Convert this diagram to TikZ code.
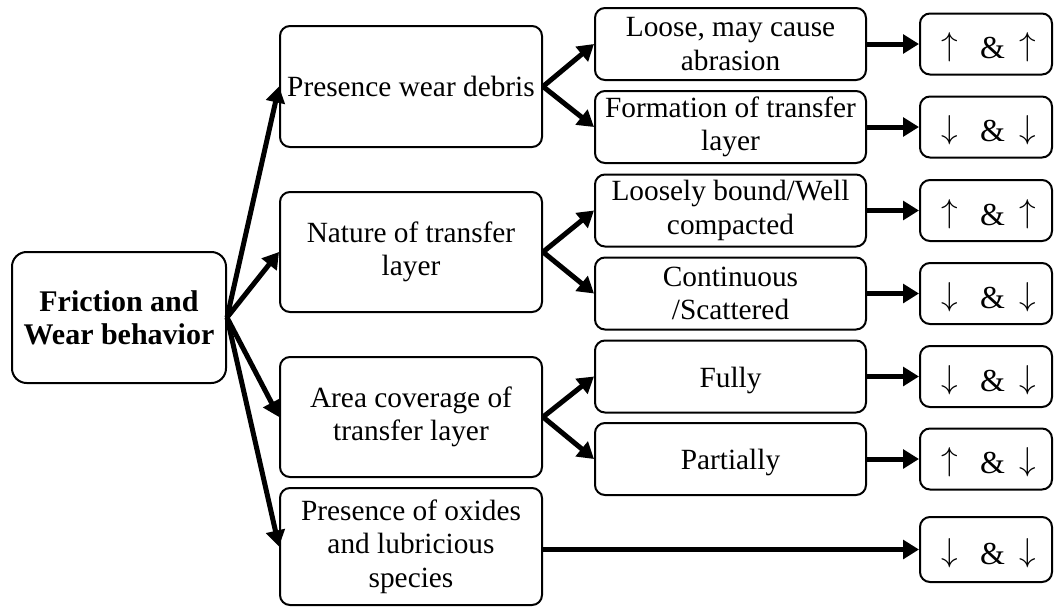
\documentclass[tikz,border=0pt]{standalone}
\usepackage{fontspec}
\setmainfont{Liberation Serif}
\usetikzlibrary{arrows.meta}
\tikzset{
  box/.style={draw, line width=1.5pt, rounded corners=7.5pt, align=center, inner sep=1pt,
    font=\fontsize{22}{25}\selectfont},
  oneline/.style={text height=20pt, text depth=4pt},
  rootbox/.style={box, rounded corners=11pt, font=\fontsize{22.5}{24.5}\selectfont\bfseries,
    minimum width=160.5pt, minimum height=98.25pt},
  midbox/.style={box, minimum width=196.5pt, minimum height=90pt},
  leafbox/.style={box, minimum width=203.25pt, minimum height=54pt},
  resbox/.style={box, font=\fontsize{24}{26}\selectfont, minimum width=99pt, minimum height=45.75pt,
    text height=22.2pt, text depth=0.4pt},
  conn/.style={line width=3.75pt, -{Triangle[length=12pt,width=14pt]}},
}
\newcommand{\arr}[1]{\raisebox{0.08em}{\(#1\)}}
\newcommand{\ud}[2]{\hspace*{4.5pt}\arr{#1}\hspace{16.5pt}\&\hspace{11pt}\arr{#2}}
\begin{document}
\begin{tikzpicture}[x=0.75pt,y=-0.75pt]
\useasboundingbox (0,0) rectangle (1054,607);
\node[rootbox] (root) at (119,317.5) {Friction and\\Wear behavior};

\node[midbox, text height=19pt, text depth=4.4pt, minimum height=90.75pt] (m1) at (411,86.5) {Presence wear debris};
\node[midbox] (m2) at (411,252) {Nature of transfer\\layer};
\node[midbox] (m3) at (411,417) {Area coverage of\\transfer layer};
\node[midbox, minimum height=87.75pt] (m4) at (411,546.5) {Presence of oxides\\and lubricious\\species};

\node[leafbox] (l1) at (730.5,44) {Loose, may cause\\abrasion};
\node[leafbox] (l2) at (730.5,127) {Formation of transfer\\layer};
\node[leafbox] (l3) at (730.5,210.5) {Loosely bound/Well\\compacted};
\node[leafbox] (l4) at (730.5,293.5) {Continuous\\/Scattered};
\node[leafbox, oneline] (l5) at (730.5,376.5) {Fully};
\node[leafbox, oneline] (l6) at (730.5,459) {Partially};

\node[resbox] (r1) at (986,44) {\ud{\uparrow}{\uparrow}};
\node[resbox] (r2) at (986,127) {\ud{\downarrow}{\downarrow}};
\node[resbox] (r3) at (986,210.5) {\ud{\uparrow}{\uparrow}};
\node[resbox] (r4) at (986,293.5) {\ud{\downarrow}{\downarrow}};
\node[resbox] (r5) at (986,376.5) {\ud{\downarrow}{\downarrow}};
\node[resbox] (r6) at (986,459) {\ud{\uparrow}{\downarrow}};
\node[resbox, minimum height=48.75pt] (r7) at (986,549.5) {\ud{\downarrow}{\downarrow}};

\foreach \m in {m1,m2,m3,m4} \draw[conn] (root.east) -- (\m.west);
\draw[conn] (m1.east) -- (l1.west);
\draw[conn] (m1.east) -- (l2.west);
\draw[conn] (m2.east) -- (l3.west);
\draw[conn] (m2.east) -- (l4.west);
\draw[conn] (m3.east) -- (l5.west);
\draw[conn] (m3.east) -- (l6.west);
\foreach \i in {1,...,6} \draw[conn] (l\i.east) -- (r\i.west);
\draw[conn] (r7.west -| m4.east) -- (r7.west);
\end{tikzpicture}
\end{document}
